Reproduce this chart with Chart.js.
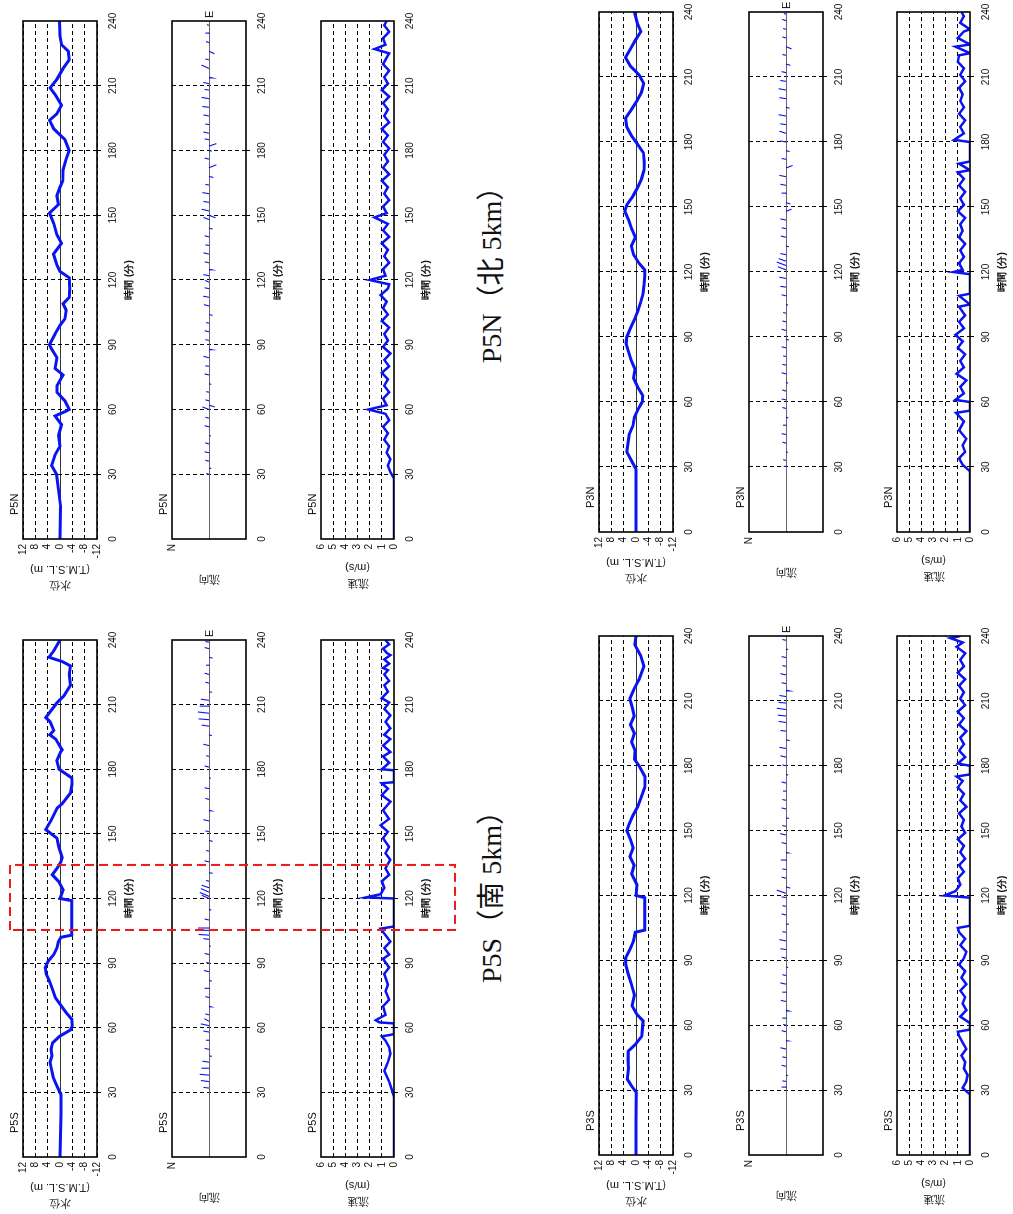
<!DOCTYPE html>
<html><head><meta charset="utf-8">
<script src="https://cdn.jsdelivr.net/npm/chart.js@4.4.1/dist/chart.umd.min.js"></script>
<style>
html,body{margin:0;padding:0;background:#fff;width:1013px;height:1214px;overflow:hidden}
#page{position:absolute;left:0;top:0;width:1214px;height:1013px;transform-origin:0 0;transform:translate(0px,1214px) rotate(-90deg);background:#fff}
canvas{position:absolute}
svg.mark{position:absolute;overflow:visible}
.lbl{position:absolute;font-family:"Liberation Sans",Arial,sans-serif;font-size:11px;color:#111;line-height:12px;white-space:nowrap}
.ttl{position:absolute;width:300px;text-align:center;font-family:"Liberation Serif","Noto Sans CJK JP",serif;font-size:28px;line-height:32px;color:#111;white-space:nowrap}
</style></head><body><div id="page"></div>
<script>
// ---------------- DATA ----------------
const timeTicks = [0,30,60,90,120,150,180,210,240];
const waterTicks = [-12,-8,-4,0,4,8,12];
const speedTicks = [0,1,2,3,4,5,6];
const groupNames = ['P5S','P5N','P3S','P3N'];
const groupTitles = ['P5S（南 5km）','P5N（北 5km）'];
const highlightRange = [105.4,135.6];   // red dashed box on P5S (minutes)

// water level (T.M.S.L. m)
const p5sWaterT = [0,10,20,29,33,37,41,44,47,50,53,56,59,61,64,67,70,74,78,82,85,88,91,94,97,100,102,103,119,120,124,128,131,134,137,139,144,148,152,153,156,162,164,169,173,176,180,184,188,189,194,196,198,202,204,211,214,219,224,228,230,232,235,240];
const p5sWaterV = [0,-0.2,-0.3,-0.3,1.0,2.2,2.8,3.2,2.6,2.9,2.4,0.2,-3.4,-4.0,-3.8,-2.0,-0.5,1.5,2.5,3.5,4.5,4.8,3.8,2.0,1.0,0.5,-0.3,-3.8,-3.8,0,-1.0,0.5,2.5,1.0,-0.3,-0.7,0.4,1.0,4.6,4.2,3.0,0.9,-0.7,-3.4,-3.9,-3.8,0.3,1.0,-0.2,-0.7,1.4,3.3,2.0,3.2,4.6,0.9,-1.2,-3.4,-3.0,-3.4,-0.7,3.6,2.0,0];
const p5nWaterT = [0,15,30,34,39,43,48,53,57,59,60,64,68,71,76,79,84,88,90,95,99,102,106,109,112,116,121,124,127,132,137,141,146,151,155,159,163,166,171,176,180,185,190,194,197,201,206,209,213,218,222,226,229,233,240];
const p5nWaterV = [0,-0.2,1.1,2.7,1.6,0,0.5,-0.5,1.6,-1.6,-3.0,-1.6,1.0,1.0,-1.0,1.6,1.0,2.7,3.4,1.6,0,-1.6,-2.0,-1.0,-3.0,-3.2,-3.0,0,1.0,2.1,-0.5,1.0,2.0,3.4,0.5,1.0,0,-0.9,-1.0,-2.0,-3.0,-1.6,2.0,3.4,1.0,-0.5,1.6,3.2,1.0,-1.0,-3.0,-2.7,-0.5,0,0.2];
const p3sWaterT = [0,15,29,32,35,40,44,48,51,55,62,65,69,74,79,84,88,91,95,99,103,104,119,120,125,130,134,138,142,146,150,153,157,161,165,170,175,180,183,187,191,195,199,203,207,211,215,220,226,231,236,240];
const p3sWaterV = [0,0,-0.1,1.5,2.8,2.4,2.6,2.5,0.3,-1.9,-2.3,-0.3,1.3,0.5,1.5,2.6,3.3,3.4,2.0,0.8,0.2,-2.8,-2.8,0,-0.3,1.4,0.6,2.0,0.9,1.8,3.0,2.2,1.0,-0.5,-1.6,-2.8,-2.9,-1.0,0.5,0.3,1.4,0.5,1.8,0.6,1.2,2.0,0.8,-1.0,-2.6,-1.5,0.4,0];
const p3nWaterT = [0,15,29,33,37,41,45,49,53,57,60,63,67,71,75,79,83,87,90,94,98,102,106,110,114,118,121,124,128,132,136,140,144,148,151,155,159,163,167,171,175,179,183,187,191,195,199,203,207,211,215,219,223,227,231,235,240];
const p3nWaterV = [0,0,0,1.5,3.0,2.6,2.2,1.0,0.5,-0.8,-2.0,-2.2,-0.5,0.8,0.3,1.5,2.4,3.2,3.0,1.8,0.5,-0.6,-1.5,-2.3,-2.6,-2.8,-2.8,-1.0,0.8,1.5,0.2,1.4,2.4,3.6,3.0,1.0,-0.5,-1.8,-2.6,-2.7,-2.4,-0.5,1.5,3.0,3.4,1.5,-0.3,-1.8,-2.5,-1.0,1.8,3.4,1.8,0.2,-1.6,-0.4,0.5];

// flow direction sticks: time, east component (min), north component
const p5sDirT = [32,35,38,41,44,47,50,54,58,61,63,66,70,74,78,82,86,90,94,98,101,103,105,106,110,115,120,121,123,125,128,132,137,142,147,151,156,161,166,171,176,181,186,191,196,200,203,206,209,212,216,220,224,228,232,236,239];
const p5sDirU = [0.3,0.5,0.4,0.2,0.5,-0.3,0.4,0.2,0.5,0.8,1.2,0.4,-0.3,0.5,0.3,-0.4,0.6,0.3,0.5,-0.2,0.4,0.3,0.2,0.3,0.5,-0.4,1.5,1.8,1.6,1.2,0.4,-0.3,0.5,0.3,-0.5,0.4,0.6,-0.3,0.5,0.4,-0.2,0.5,0.3,0.6,-0.4,0.5,0.4,0.6,0.3,0.5,-0.3,0.4,0.6,0.3,-0.4,0.5,0.3];
const p5sDirV = [0.15,0.22,0.25,0.2,0.18,-0.08,0.12,0.08,0.15,0.22,0.12,0.1,-0.06,0.1,0.12,-0.08,0.14,0.08,0.12,-0.05,0.15,0.28,0.35,0.3,0.12,-0.06,0.2,0.25,0.22,0.2,0.08,-0.1,0.12,0.08,-0.1,0.1,0.15,-0.06,0.1,0.12,-0.05,0.12,0.08,0.15,-0.08,0.2,0.28,0.3,0.25,0.22,-0.08,0.1,0.12,0.08,-0.1,0.12,0.1];
const p5nDirT = [30,33,36,40,44,48,52,56,60,62,64,68,72,76,80,84,88,92,96,100,104,108,112,116,119,122,125,128,132,136,140,144,148,150,152,156,160,164,168,172,176,180,182,185,188,192,196,200,204,208,211,214,218,222,226,230,234,238];
const p5nDirU = [0.3,-0.4,0.5,0.4,0.6,-0.3,0.5,0.4,1.2,-0.8,0.5,0.3,-0.4,0.5,0.3,0.6,-0.3,0.4,0.5,0.3,-0.4,0.6,0.5,0.4,0.8,0.5,-0.3,0.4,0.6,0.3,0.5,-0.4,1.0,-1.2,0.8,0.4,0.5,0.3,-0.5,1.4,0.5,-0.3,1.2,0.4,0.6,0.3,0.5,0.4,0.6,0.3,0.5,-0.4,1.6,0.4,-1.2,0.5,0.4,0.3];
const p5nDirV = [0.08,-0.06,0.1,0.12,0.1,-0.05,0.12,0.1,0.18,-0.15,0.1,0.08,-0.06,0.12,0.1,0.15,-0.08,0.1,0.12,0.08,-0.1,0.14,0.16,0.12,0.1,0.15,-0.08,0.12,0.15,0.1,0.12,-0.1,0.15,-0.18,0.2,0.15,0.18,0.1,-0.12,-0.2,0.12,-0.08,-0.2,0.12,0.15,0.1,0.15,0.18,0.2,0.12,0.15,-0.1,0.2,0.1,-0.15,0.08,0.1,0.06];
const p3sDirT = [31,34,37,41,45,49,53,57,60,63,67,71,75,79,83,87,91,95,99,103,107,111,115,119,121,124,128,132,136,140,144,148,152,156,160,164,168,172,176,180,184,188,192,196,200,203,206,209,212,215,218,222,226,230,234,238];
const p3sDirU = [0.4,0.3,-0.3,0.5,0.4,0.6,-0.2,0.5,0.4,0.3,-0.4,0.5,0.3,0.6,0.4,-0.3,0.5,0.4,0.6,0.3,-0.4,0.5,0.3,0.4,1.5,-0.6,0.5,0.3,0.4,-0.3,0.5,0.6,0.3,-0.4,0.5,0.4,0.3,0.5,-0.3,0.4,0.6,0.5,-0.4,0.3,0.5,0.4,0.6,0.3,0.5,-0.4,0.4,0.6,0.3,0.5,-0.3,0.4];
const p3sDirV = [0.12,0.1,-0.05,0.12,0.1,0.15,-0.05,0.12,0.08,0.1,-0.08,0.14,0.1,0.15,0.1,-0.06,0.12,0.15,0.18,0.1,-0.08,0.12,0.1,0.12,0.25,-0.12,0.12,0.1,0.14,-0.06,0.12,0.16,0.1,-0.08,0.12,0.1,0.08,0.12,-0.06,0.1,0.15,0.18,-0.1,0.15,0.2,0.22,0.25,0.2,0.18,-0.1,0.12,0.15,0.1,0.12,-0.06,0.1];
const p3nDirT = [30,33,37,41,45,49,53,57,61,65,69,73,77,81,85,89,93,97,101,105,109,113,117,121,123,125,128,132,136,140,144,148,152,156,160,164,168,172,176,180,184,188,192,196,200,204,208,212,216,220,224,228,232,236,239];
const p3nDirU = [0.3,0.4,-0.3,0.5,0.4,0.3,-0.4,0.5,0.4,0.6,-0.3,0.5,0.4,0.3,0.5,-0.4,0.6,0.4,0.3,-0.3,0.5,0.4,0.6,1.4,1.6,1.2,0.5,-0.4,0.6,0.4,0.5,1.0,-0.6,0.4,0.5,0.6,1.2,0.4,-0.4,0.5,1.0,0.4,0.6,-0.4,0.5,0.6,0.4,0.5,-0.6,0.4,-1.0,0.5,0.4,0.6,0.3];
const p3nDirV = [0.06,0.08,-0.05,0.1,0.12,0.08,-0.06,0.1,0.12,0.1,-0.06,0.12,0.1,0.08,0.12,-0.08,0.12,0.1,0.08,-0.06,0.12,0.15,0.18,0.22,0.25,0.2,0.15,-0.08,0.14,0.12,0.15,-0.15,-0.12,0.12,0.15,0.18,-0.18,0.12,-0.1,0.15,0.18,0.15,0.2,-0.1,0.18,0.2,0.15,0.12,-0.12,0.1,-0.15,0.1,0.08,0.1,0.06];

// flow speed (m/s)
const p5sSpeedT = [0,28,30,35,40,44,48,51,54,56,57,62,62.5,63.5,66,70,73,77,80,85,88,92,94,97,100,103,106,107,120,120.5,122,125,128,131,134,138,141,144,148,151,154,157,161,165,168,171,173.5,174,179.5,180,183,186,188,191,194,196,199,202,205,208,211,213,216,219,221,224,226,227,229,231,233,234,236,238,240];
const p5sSpeedV = [0,0,0.1,0.4,0.8,0.5,0.3,0.4,0.7,1.0,0,0,1.2,1.5,0.7,0.9,0.4,0.7,0.5,0.8,0.4,0.9,0.4,0.8,0.3,0.7,1.1,0,0,2.3,1.1,0.8,1.0,0.4,0.7,0.3,0.7,0.4,0.9,0.5,1.1,0.4,0.9,0.3,1.0,0.5,1.0,0,0,1.0,0.4,0.9,0.3,0.9,0.3,0.8,0.3,0.7,0.3,0.8,0.4,1.0,0.5,0.8,0.4,0.8,0.5,0.9,0.4,0.8,0.3,0.6,0.9,0.4,0.7];
const p5nSpeedT = [0,28,31,34,37,40,43,46,49,52,55,58,60,62,65,68,71,74,77,80,83,86,89,92,95,98,101,104,107,110,113,116,118,120,122,125,128,131,134,137,140,143,146,149,151,154,157,160,163,166,169,172,175,178,181,184,187,190,193,196,199,202,205,208,211,214,217,220,223,225,227,229,232,235,238,240];
const p5nSpeedV = [0,0,0.3,0.5,0.3,0.6,0.4,0.8,0.5,0.9,0.4,0.7,2.1,0.6,0.9,0.4,0.8,0.5,1.0,0.4,0.8,0.3,0.9,0.5,0.8,0.4,1.0,0.5,0.9,0.6,1.1,0.5,0.4,2.0,0.7,0.9,0.4,0.8,0.5,1.0,0.4,0.9,0.5,1.6,0.6,0.9,0.4,0.8,0.5,1.0,0.4,0.9,0.5,0.8,0.4,0.9,0.5,1.0,0.4,0.8,0.5,0.9,0.4,1.0,0.5,0.8,0.4,0.9,0.6,0.4,1.6,0.7,0.9,0.4,0.8,0.6];
const p3sSpeedT = [0,28,31,34,37,40,43,46,49,52,55,57,58,61,64,67,70,73,76,79,82,85,88,91,94,97,100,103,105,106,118,119,120,122,125,128,131,134,137,140,143,146,149,152,155,158,161,164,167,170,173,175,176,180,181,184,187,190,193,196,199,202,205,208,211,214,217,220,223,226,229,232,235,237,239,240];
const p3sSpeedV = [0,0,0.6,0.3,0.2,0.5,0.4,0.7,0.3,0.6,0.9,1.0,0,0,0.8,0.3,0.6,0.4,0.8,0.3,0.7,0.4,0.9,0.5,0.3,0.8,0.4,0.9,1.0,0,0,0,2.1,1.2,0.8,1.0,0.5,0.9,0.4,0.8,0.5,1.0,0.4,0.7,0.5,0.9,0.3,0.8,0.5,1.0,0.6,1.1,0,0,1.0,0.4,0.9,0.5,0.8,0.3,0.9,0.5,1.0,0.4,0.8,0.5,0.9,0.4,1.0,0.5,0.8,0.4,1.1,0.6,1.6,0.8];
const p3nSpeedT = [0,28,31,34,37,40,43,47,51,55,56,60,61,64,67,70,73,76,79,82,85,88,91,94,97,100,104,105,109,110,111,119,120,121,124,127,130,133,136,139,142,145,148,151,154,157,160,163,166,167,170,171,180,181,184,187,190,193,196,199,202,205,208,211,214,217,220,221,224,225,228,231,232,235,238,240];
const p3nSpeedV = [0,0,0.6,0.9,0.4,0.6,0.3,0.9,0.5,1.15,0,0,1.2,0.5,0.8,0.3,1.1,0.5,0.8,0.4,1.0,0.6,1.2,0.5,0.9,0.4,0.9,0,0.9,0,0,0,1.36,0.6,0.9,0.5,0.8,0.4,0.9,0.6,0.8,0.4,1.0,0.5,0.8,0.4,0.9,0.5,1.0,0,0.9,0,0,1.3,0.5,0.8,0.4,0.9,0.5,0.8,0.6,0.9,0.4,0.8,0.5,1.0,0.9,0,1.2,0,1.0,0.5,0,0.8,0.5,0.7];

// ---------------- LAYOUT ----------------
const FONT = '"Liberation Sans", Arial, Helvetica, sans-serif';
const BLUE = '#0a14f2';
const YW = 57, XH = 45, PT = 10, PR = 30;
const groups = [
  {name:'P5S', ox:57,  w:517, rows:[22,171,320], water:[p5sWaterT,p5sWaterV], dir:[p5sDirT,p5sDirU,p5sDirV], speed:[p5sSpeedT,p5sSpeedV]},
  {name:'P5N', ox:675, w:518, rows:[22,171,320], water:[p5nWaterT,p5nWaterV], dir:[p5nDirT,p5nDirU,p5nDirV], speed:[p5nSpeedT,p5nSpeedV]},
  {name:'P3S', ox:59,  w:519, rows:[598,748,896], water:[p3sWaterT,p3sWaterV], dir:[p3sDirT,p3sDirU,p3sDirV], speed:[p3sSpeedT,p3sSpeedV]},
  {name:'P3N', ox:682, w:520, rows:[598,748,896], water:[p3nWaterT,p3nWaterV], dir:[p3nDirT,p3nDirU,p3nDirV], speed:[p3nSpeedT,p3nSpeedV]}
];
const rowH = [75,75,74];
const page = document.getElementById('page');

const framePlugin = {id:'frame', afterDatasetsDraw(c){
  const a=c.chartArea, g=c.ctx; g.save(); g.setLineDash([]); g.strokeStyle='#000'; g.lineWidth=1.6;
  g.strokeRect(a.left,a.top,a.right-a.left,a.bottom-a.top); g.restore(); }};

function pts(T,V){ return T.map((t,i)=>({x:t,y:V[i]})); }
function sticks(T,U,V){ const o=[]; T.forEach((t,i)=>{ o.push({x:t,y:0},{x:t+U[i],y:V[i]},{x:t,y:null}); }); return o; }

function xScale(){
  return {type:'linear', min:0, max:240, afterFit(s){s.height=XH;},
    afterBuildTicks(s){ s.ticks = timeTicks.map(v=>({value:v})); },
    ticks:{autoSkip:false, maxRotation:0, color:'#111', padding:6, font:{family:FONT,size:10}},
    grid:{color:c=>(c.tick&&c.tick.value>0&&c.tick.value<240)?'#000':'rgba(0,0,0,0)', lineWidth:1, drawTicks:true, tickLength:4},
    border:{display:false, dash:[4,3]},
    title:{display:true, text:'時間 (分)', color:'#111', font:{family:FONT,size:10,weight:'bold'}, padding:{top:0,bottom:7}}};
}
function yTitle(text, pad){ return {display:true, text, color:'#111', font:{family:FONT,size:11,lineHeight:1.45}, padding:{top:pad,bottom:0}}; }
function fixedTicks(list){ return function(s){ s.ticks = list.map(v=>({value:v})); }; }

const charts = {};
function makeChart(g, kind, r){
  const top = g.rows[r], h = rowH[r];
  const cv = document.createElement('canvas');
  const W = YW + g.w + PR, H = PT + h + XH;
  cv.width = W; cv.height = H;
  cv.style.left = (g.ox - YW) + 'px'; cv.style.top = (top - PT) + 'px';
  cv.style.width = W + 'px'; cv.style.height = H + 'px';
  page.appendChild(cv);
  let datasets, y;
  const tickFont = {family:FONT,size:10};
  if (kind === 'water') {
    datasets = [{data:pts(g.water[0], g.water[1]), showLine:true, borderColor:BLUE, borderWidth:3, pointRadius:0, tension:0}];
    y = {min:-12, max:12, afterFit(s){s.width=YW;}, afterBuildTicks:fixedTicks(waterTicks),
      ticks:{autoSkip:false, color:'#111', padding:5, font:tickFont},
      grid:{color:'#000', lineWidth:c=>(c.tick&&c.tick.value===0)?0.8:1, drawTicks:false},
      border:{display:false, dash:c=>(c.tick&&c.tick.value===0)?[]:[4,3]},
      title:yTitle(['水位','(T.M.S.L. m)'], 3)};
  } else if (kind === 'dir') {
    datasets = [{data:sticks(g.dir[0], g.dir[1], g.dir[2]), showLine:true, spanGaps:false, borderColor:BLUE, borderWidth:1.1, pointRadius:0, tension:0}];
    y = {min:-1, max:1, afterFit(s){s.width=YW;}, afterBuildTicks:fixedTicks([-1,0,1]),
      ticks:{autoSkip:false, color:'#111', padding:5, font:tickFont, callback:v=>v===1?'N':''},
      grid:{color:c=>(c.tick&&c.tick.value===0)?'#666':'rgba(0,0,0,0)', lineWidth:1, drawTicks:false},
      border:{display:false},
      title:yTitle('流向', 9)};
  } else {
    datasets = [{data:pts(g.speed[0], g.speed[1]), showLine:true, borderColor:BLUE, borderWidth:2.5, pointRadius:0, tension:0}];
    y = {min:0, max:6, afterFit(s){s.width=YW;}, afterBuildTicks:fixedTicks(speedTicks),
      ticks:{autoSkip:false, color:'#111', padding:5, font:tickFont},
      grid:{color:c=>(c.tick&&c.tick.value>0&&c.tick.value<6)?'#000':'rgba(0,0,0,0)', lineWidth:1, drawTicks:false},
      border:{display:false, dash:[4,3]},
      title:yTitle(['流速','(m/s)'], 5)};
  }
  charts[g.name+kind] = new Chart(cv, {type:'scatter', data:{datasets},
    options:{responsive:false, animation:false, devicePixelRatio:1,
      layout:{padding:{top:PT,right:PR,left:0,bottom:0}},
      plugins:{legend:{display:false}, tooltip:{enabled:false}, title:{display:false}},
      scales:{x:xScale(), y}},
    plugins:[framePlugin]});
  const lb = document.createElement('div'); lb.className='lbl'; lb.textContent=g.name;
  lb.style.left=(g.ox+24)+'px'; lb.style.top=(top-14)+'px'; page.appendChild(lb);
  if (kind === 'dir') {
    const e = document.createElement('div'); e.className='lbl'; e.textContent='E';
    e.style.left=(g.ox+g.w+3)+'px'; e.style.top=(top+h/2-6)+'px'; page.appendChild(e);
  }
}

groups.forEach(g=>{ ['water','dir','speed'].forEach((k,r)=>makeChart(g,k,r)); });

[[324,groupTitles[0]],[946,groupTitles[1]]].forEach(([cx,txt])=>{
  const d=document.createElement('div'); d.className='ttl'; d.textContent=txt;
  d.style.left=(cx-150)+'px'; d.style.top='476px'; page.appendChild(d);
});

// red dashed highlight box across the three P5S panels, placed with the P5S time scale
(function(){
  const ch = charts['P5Swater'];
  const xs = ch.scales.x;
  const cvLeft = groups[0].ox - YW;
  const x0 = cvLeft + xs.getPixelForValue(highlightRange[0]);
  const x1 = cvLeft + xs.getPixelForValue(highlightRange[1]);
  const y0 = 10, y1 = 455;
  const NS = 'http://www.w3.org/2000/svg';
  const svg = document.createElementNS(NS,'svg'); svg.setAttribute('class','mark');
  svg.setAttribute('width', x1-x0+4); svg.setAttribute('height', y1-y0+4);
  svg.style.left=(x0-2)+'px'; svg.style.top=(y0-2)+'px';
  const rc = document.createElementNS(NS,'rect');
  rc.setAttribute('x',2); rc.setAttribute('y',2); rc.setAttribute('width',x1-x0); rc.setAttribute('height',y1-y0);
  rc.setAttribute('fill','none'); rc.setAttribute('stroke','#f01818'); rc.setAttribute('stroke-width','2');
  rc.setAttribute('stroke-dasharray','9,5');
  svg.appendChild(rc); page.appendChild(svg);
})();
</script></body></html>
